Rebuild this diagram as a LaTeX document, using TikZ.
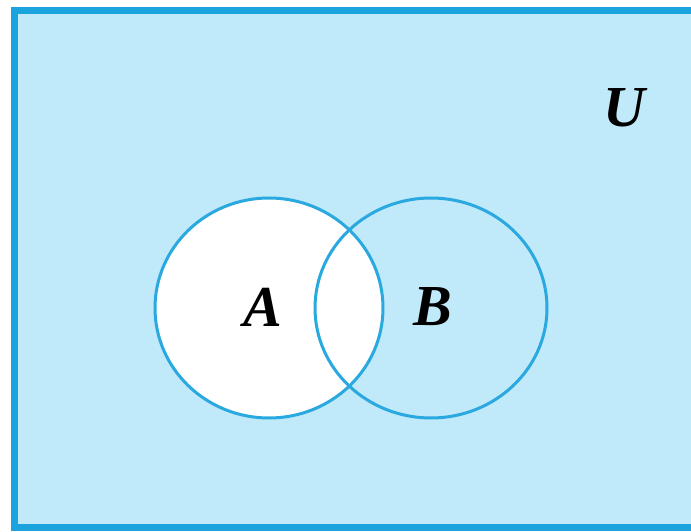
\documentclass[tikz,border=0pt]{standalone}
\usepackage{fontspec}
\setmainfont{Liberation Serif}
\definecolor{ufill}{HTML}{C0E9FA}
\definecolor{uframe}{HTML}{1AA3DD}
\definecolor{cline}{HTML}{2AA8E0}
\tikzset{
  setlabel/.style={inner sep=0pt, font=\fontsize{58}{58}\selectfont\bfseries\itshape},
  setcircle/.style={draw=cline, line width=3pt}
}
\begin{document}
\begin{tikzpicture}[x=1pt,y=-1pt]
\useasboundingbox (0,0) rectangle (691,532);
\fill[white] (0,0) rectangle (691,532);
\draw[uframe, fill=ufill, line width=7pt] (14.5,11) rectangle (710,527.5);
\fill[white] (269,308) ellipse [x radius=114, y radius=110];
\draw[setcircle] (269,308) ellipse [x radius=114, y radius=110];
\draw[setcircle] (431,308) ellipse [x radius=116, y radius=110];
\node[setlabel] (a) at (263,307) {A};
\node[setlabel] (b) at (433,307) {B};
\node[setlabel] (u) at (624,108) {U};
\end{tikzpicture}
\end{document}
